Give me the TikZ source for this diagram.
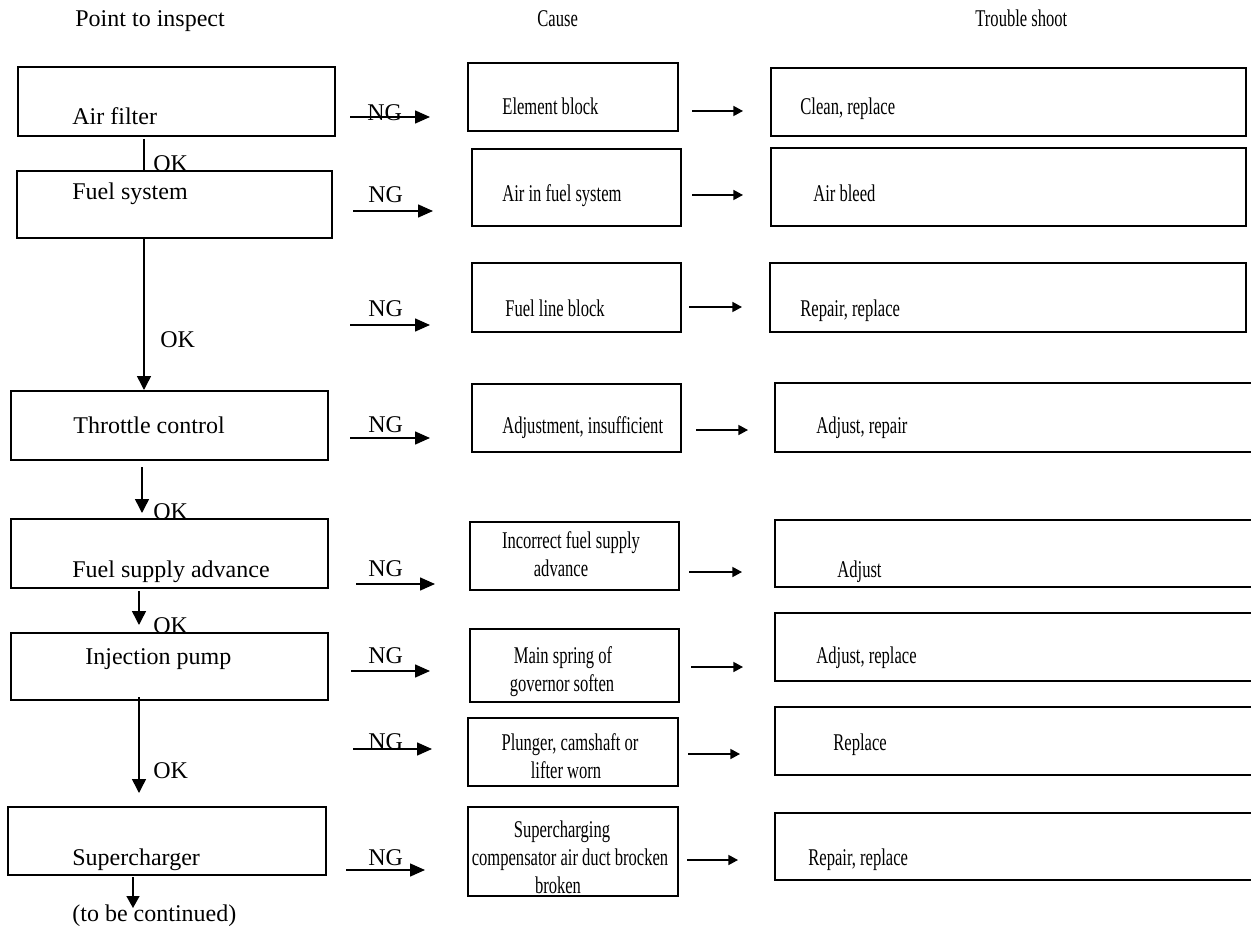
\documentclass[tikz,border=0pt]{standalone}
\usepackage{fontspec}
\setmainfont{Liberation Serif}
\newfontfamily\narrowserif[FakeStretch=0.69]{Liberation Serif}
\usetikzlibrary{arrows.meta,fit}
\begin{document}
\begin{tikzpicture}[x=0.5pt,y=-0.5pt,
  box/.style={draw, line width=1pt, inner sep=0pt},
  lbl/.style={anchor=base west, inner sep=0pt, font=\fontsize{12pt}{14pt}\selectfont},
  nlbl/.style={anchor=base west, inner sep=0pt, font=\narrowserif\fontsize{12pt}{14pt}\selectfont},
  nclbl/.style={anchor=base, inner sep=0pt, font=\narrowserif\fontsize{12pt}{14pt}\selectfont},
  ngarrow/.style={line width=0.75pt, -{Triangle[length=7.5pt,width=6.5pt]}},
  fixarrow/.style={line width=0.75pt, -{Triangle[length=4.8pt,width=5pt]}},
  okarrow/.style={line width=0.75pt, -{Triangle[length=7pt,width=7pt]}},
  okline/.style={line width=0.75pt}]
\useasboundingbox (0,0) rectangle (1251,930);
\clip (0,0) rectangle (1251,930);

% headers
\node[lbl] (h1) at (75,27) {Point to inspect};
\node[nlbl] (h2) at (537,27) {Cause};
\node[nlbl] (h3) at (975,27) {Trouble shoot};

% left column boxes
\node[box, fit={(18,67) (335,136)}] (airfilter) {};
\node[box, fit={(17,171) (332,238)}] (fuelsys) {};
\node[box, fit={(11,391) (328,460)}] (throttle) {};
\node[box, fit={(11,519) (328,588)}] (fsa) {};
\node[box, fit={(11,633) (328,700)}] (injpump) {};
\node[box, fit={(8,807) (326,875)}] (superch) {};

\node[lbl] (t-airfilter) at (72,125) {Air filter};
\node[lbl] (t-fuelsys) at (72,200) {Fuel system};
\node[lbl] (t-throttle) at (73,433) {Throttle control};
\node[lbl] (t-fsa) at (72,577) {Fuel supply advance};
\node[lbl] (t-injpump) at (85,664) {Injection pump};
\node[lbl] (t-superch) at (72,865) {Supercharger};
\node[lbl] (t-cont) at (72,921) {(to be continued)};

% cause column boxes
\node[box, fit={(468,63) (678,131)}] (element) {};
\node[box, fit={(472,149) (681,226)}] (airin) {};
\node[box, fit={(472,263) (681,332)}] (fuelline) {};
\node[box, fit={(472,384) (681,452)}] (adjustment) {};
\node[box, fit={(470,522) (679,590)}] (incorrect) {};
\node[box, fit={(470,629) (679,702)}] (mainspring) {};
\node[box, fit={(468,718) (678,786)}] (plunger) {};
\node[box, fit={(468,807) (678,896)}] (superchg) {};

\node[nlbl] (t-element) at (502,115) {Element block};
\node[nlbl] (t-airin) at (502,202) {Air in fuel system};
\node[nlbl] (t-fuelline) at (505,317) {Fuel line block};
\node[nlbl] (t-adjustment) at (502,433) {Adjustment, insufficient};
\node[nclbl] (t-incorrect1) at (571,548) {Incorrect fuel supply};
\node[nclbl] (t-incorrect2) at (561,576) {advance};
\node[nclbl] (t-mainspring1) at (563,663) {Main spring of};
\node[nclbl] (t-mainspring2) at (562,691) {governor soften};
\node[nclbl] (t-plunger1) at (570,750) {Plunger, camshaft or};
\node[nclbl] (t-plunger2) at (566,778) {lifter worn};
\node[nclbl] (t-superchg1) at (562,837) {Supercharging};
\node[nclbl] (t-superchg2) at (570,865) {compensator air duct brocken};
\node[nclbl] (t-superchg3) at (558,893) {broken};

% trouble shoot column boxes
\node[box, fit={(771,68) (1246,136)}] (clean) {};
\node[box, fit={(771,148) (1246,226)}] (airbleed) {};
\node[box, fit={(770,263) (1246,332)}] (repair1) {};
\node[box, fit={(775,383) (1262,452)}] (adjrepair) {};
\node[box, fit={(775,520) (1262,587)}] (adjust) {};
\node[box, fit={(775,613) (1262,681)}] (adjreplace) {};
\node[box, fit={(775,707) (1262,775)}] (replace) {};
\node[box, fit={(775,813) (1262,880)}] (repair2) {};

\node[nlbl] (t-clean) at (800,115) {Clean, replace};
\node[nlbl] (t-airbleed) at (813,202) {Air bleed};
\node[nlbl] (t-repair1) at (800,317) {Repair, replace};
\node[nlbl] (t-adjrepair) at (816,433) {Adjust, repair};
\node[nlbl] (t-adjust) at (837,577) {Adjust};
\node[nlbl] (t-adjreplace) at (816,663) {Adjust, replace};
\node[nlbl] (t-replace) at (833,750) {Replace};
\node[nlbl] (t-repair2) at (808,865) {Repair, replace};

% NG labels
\node[lbl] (ng1) at (367,121) {NG};
\node[lbl] (ng2) at (368,203) {NG};
\node[lbl] (ng3) at (368,317) {NG};
\node[lbl] (ng4) at (368,432) {NG};
\node[lbl] (ng5) at (368,576) {NG};
\node[lbl] (ng6) at (368,663) {NG};
\node[lbl] (ng7) at (368,749) {NG};
\node[lbl] (ng8) at (368,865) {NG};

% OK labels
\node[lbl] (ok1) at (153,172) {OK};
\node[lbl] (ok2) at (160,347) {OK};
\node[lbl] (ok3) at (153,519) {OK};
\node[lbl] (ok4) at (153,633) {OK};
\node[lbl] (ok5) at (153,778) {OK};

% NG arrow end points
\coordinate (ng1s) at (350,117); \coordinate (ng1e) at (430,117);
\coordinate (ng2s) at (353,211); \coordinate (ng2e) at (433,211);
\coordinate (ng3s) at (350,325); \coordinate (ng3e) at (430,325);
\coordinate (ng4s) at (350,438); \coordinate (ng4e) at (430,438);
\coordinate (ng5s) at (356,584); \coordinate (ng5e) at (435,584);
\coordinate (ng6s) at (351,671); \coordinate (ng6e) at (430,671);
\coordinate (ng7s) at (353,749); \coordinate (ng7e) at (432,749);
\coordinate (ng8s) at (346,870); \coordinate (ng8e) at (425,870);
\foreach \i in {1,...,8} {\draw[ngarrow] (ng\i s) -- (ng\i e);}

% cause -> trouble arrows
\coordinate (fx1s) at (692,111); \coordinate (fx1e) at (743,111);
\coordinate (fx2s) at (692,195); \coordinate (fx2e) at (743,195);
\coordinate (fx3s) at (689,307); \coordinate (fx3e) at (742,307);
\coordinate (fx4s) at (696,430); \coordinate (fx4e) at (748,430);
\coordinate (fx5s) at (689,572); \coordinate (fx5e) at (742,572);
\coordinate (fx6s) at (691,667); \coordinate (fx6e) at (743,667);
\coordinate (fx7s) at (688,754); \coordinate (fx7e) at (740,754);
\coordinate (fx8s) at (687,860); \coordinate (fx8e) at (738,860);
\foreach \i in {1,...,8} {\draw[fixarrow] (fx\i s) -- (fx\i e);}

% OK connectors
\coordinate (v1s) at (144,139);
\draw[okline] (v1s) -- (fuelsys.north -| v1s);
\coordinate (v2) at (144,0);
\draw[okarrow] (fuelsys.south -| v2) -- (throttle.north -| v2);
\coordinate (v3s) at (142,467); \coordinate (v3e) at (142,513);
\draw[okarrow] (v3s) -- (v3e);
\coordinate (v4s) at (139,591); \coordinate (v4e) at (139,625);
\draw[okarrow] (v4s) -- (v4e);
\coordinate (v5s) at (139,697); \coordinate (v5e) at (139,793);
\draw[okarrow] (v5s) -- (v5e);
\coordinate (v6s) at (133,877); \coordinate (v6e) at (133,908);
\draw[line width=0.75pt, -{Triangle[length=6pt,width=6.5pt]}] (v6s) -- (v6e);
\end{tikzpicture}
\end{document}
